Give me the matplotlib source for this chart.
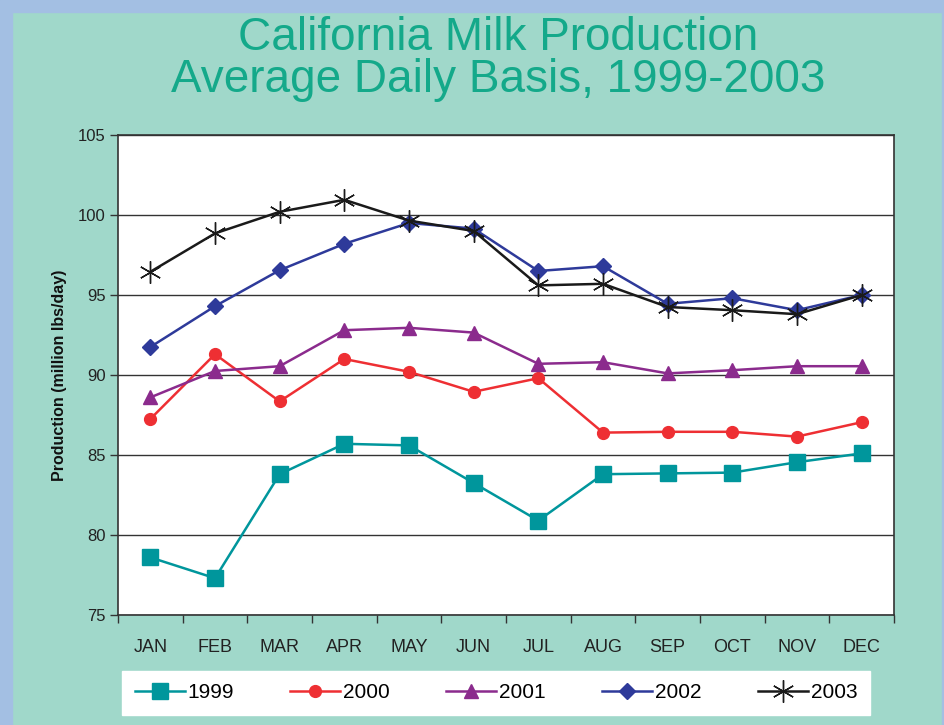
import matplotlib
matplotlib.use('Agg')
import matplotlib.pyplot as plt
from matplotlib.patches import Rectangle

months = ['JAN', 'FEB', 'MAR', 'APR', 'MAY', 'JUN',
          'JUL', 'AUG', 'SEP', 'OCT', 'NOV', 'DEC']

y1999 = [78.6, 77.3, 83.8, 85.7, 85.6, 83.25, 80.9, 83.8, 83.85, 83.9, 84.55, 85.1]
y2000 = [87.25, 91.3, 88.35, 91.0, 90.2, 88.95, 89.8, 86.4, 86.45, 86.45, 86.15, 87.05]
y2001 = [88.6, 90.25, 90.55, 92.8, 92.95, 92.65, 90.7, 90.8, 90.1, 90.3, 90.55, 90.55]
y2002 = [91.75, 94.3, 96.55, 98.2, 99.5, 99.15, 96.5, 96.8, 94.45, 94.8, 94.05, 95.0]
y2003 = [96.45, 98.85, 100.2, 100.95, 99.65, 99.0, 95.6, 95.7, 94.25, 94.05, 93.8, 95.0]

years = ['1999', '2000', '2001', '2002', '2003']

BG = '#a0d8ca'
BORDER = '#a3bfe3'

plt.rcParams['font.family'] = ['Liberation Sans', 'DejaVu Sans']

fig = plt.figure(figsize=(9.45, 7.25), dpi=100)
fig.patch.set_facecolor(BG)

# blue frame on top, left and right
W, H = 945, 725
fig.patches.append(Rectangle((0, 1 - 12 / H), 1, 12 / H, transform=fig.transFigure,
                             color=BORDER, zorder=0))
fig.patches.append(Rectangle((0, 0), 12 / W, 1, transform=fig.transFigure,
                             color=BORDER, zorder=0))
fig.patches.append(Rectangle((1 - 3 / W, 0), 3 / W, 1, transform=fig.transFigure,
                             color=BORDER, zorder=0))

fig.text(0.527, 1 - 38 / H, 'California Milk Production', ha='center', va='center',
         fontsize=33, color='#14a98a')
fig.text(0.527, 1 - 80 / H, 'Average Daily Basis, 1999-2003', ha='center', va='center',
         fontsize=33, color='#14a98a')

ax = fig.add_axes([118 / W, (H - 615) / H, (894 - 118) / W, (615 - 135) / H])
ax.set_facecolor('white')

x = list(range(len(months)))
ax.plot(x, y1999, color='#00969c', lw=1.8, marker='s', ms=11.5, label=years[0], zorder=3)
ax.plot(x, y2000, color='#ee2f33', lw=1.8, marker='o', ms=8.5, label=years[1], zorder=3)
ax.plot(x, y2001, color='#8b2b8d', lw=1.8, marker='^', ms=10, label=years[2], zorder=3)
ax.plot(x, y2002, color='#2e3a9a', lw=1.8, marker='D', ms=8.5, label=years[3], zorder=3)
ax.plot(x, y2003, color='#1a1a1a', lw=1.8, marker=(6, 2, 0), ms=16, mew=1.0,
        label=years[4], zorder=4)

ax.set_xlim(-0.5, 11.5)
ax.set_ylim(75, 105)
ax.set_yticks(range(75, 106, 5))
ax.set_xticks([i - 0.5 for i in range(13)], minor=False)
ax.set_xticklabels([])
ax.set_xticks(x, minor=True)
ax.set_xticklabels(months, minor=True, fontsize=13, color='#222222')
ax.tick_params(axis='x', which='major', length=6, width=1, color='#333333', direction='out')
ax.tick_params(axis='x', which='minor', length=0, pad=17)
ax.tick_params(axis='y', length=6, width=1, color='#333333', labelsize=12,
               labelcolor='#222222', pad=3)
ax.yaxis.grid(True, color='#333333', lw=1)
ax.set_axisbelow(True)
for s in ax.spines.values():
    s.set_color('#333333')
    s.set_linewidth(1.2)

ax.set_ylabel('Production (million lbs/day)', fontsize=11.5, fontweight='bold',
              color='#111111', labelpad=8)

leg = fig.legend(loc='lower left', ncol=5, mode='expand',
                 bbox_to_anchor=(122 / W, 10 / H, (870 - 122) / W, 42 / H),
                 frameon=True, fancybox=False, handlelength=2.4,
                 handletextpad=0.15, borderaxespad=0, borderpad=0.6,
                 prop={'size': 15})
leg.get_frame().set_facecolor('white')
leg.get_frame().set_edgecolor('white')
leg.get_frame().set_alpha(1)

fig.savefig('out.png', dpi=100, facecolor=fig.get_facecolor())
